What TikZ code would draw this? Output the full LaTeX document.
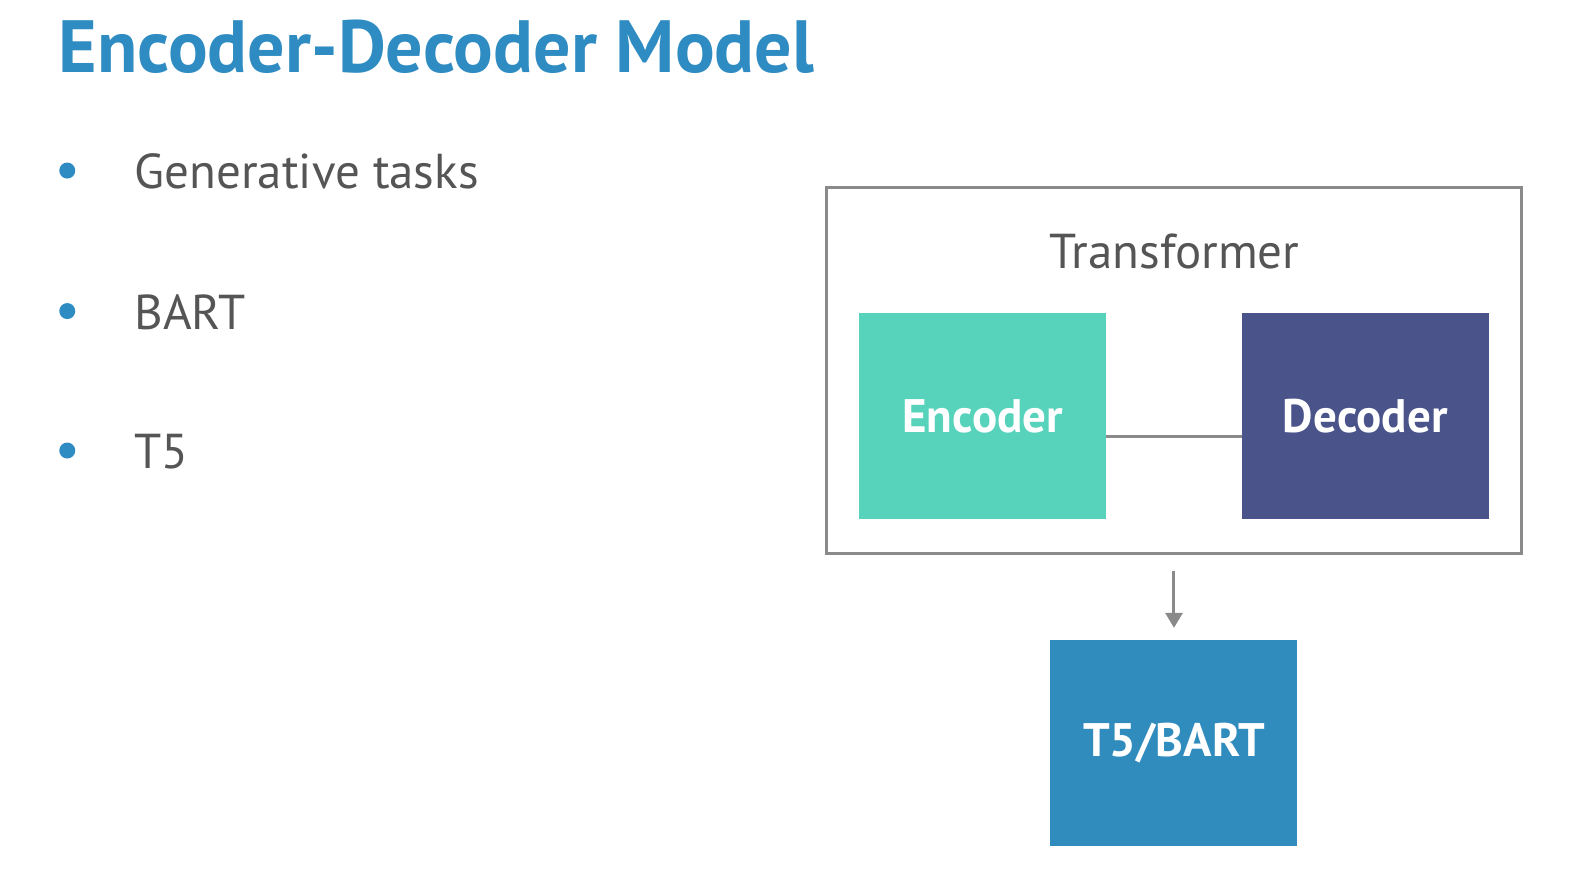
\documentclass[tikz,border=0pt]{standalone}
\usepackage{fontspec}
\setmainfont{PT Sans}
\usetikzlibrary{arrows.meta}
\definecolor{titleblue}{HTML}{2F8CC2}
\definecolor{bodygray}{HTML}{555555}
\definecolor{framegray}{HTML}{8A8A8A}
\definecolor{encfill}{HTML}{57D3BC}
\definecolor{decfill}{HTML}{4A548A}
\definecolor{modelfill}{HTML}{318CBE}
\begin{document}
\begin{tikzpicture}[x=1.0038pt,y=-1.0034pt,
  titletext/.style={anchor=base west,inner sep=0pt,text=titleblue,font=\fontsize{74}{80}\selectfont\bfseries},
  itemtext/.style={anchor=base west,inner sep=0pt,text=bodygray,font=\fontsize{49}{60}\selectfont},
  bulletdot/.style={circle,fill=titleblue,inner sep=0pt,minimum size=16pt},
  block/.style={rectangle,inner sep=0pt,minimum width=247pt,minimum height=206pt,text=white,font=\fontsize{47}{54}\selectfont\bfseries},
  frame/.style={rectangle,draw=framegray,line width=3pt,inner sep=0pt,minimum width=694pt,minimum height=366pt},
  link/.style={draw=framegray,line width=3pt},
  flow/.style={draw=framegray,line width=3pt,-{Triangle[width=17pt,length=15pt]}}
]
\useasboundingbox (0,0) rectangle (1568,873);
\fill[white] (0,0) rectangle (1568,873);

% heading
\node[titletext] (title) at (58,72) {Encoder-Decoder Model};

% bullet list
\node[bulletdot] (b1) at (67,170) {};
\node[bulletdot] (b2) at (67,310) {};
\node[bulletdot] (b3) at (67,449) {};
\node[itemtext] (i1) at (134,188) {Generative tasks};
\node[itemtext] (i2) at (134,328) {BART};
\node[itemtext] (i3) at (134,467) {T5};

% transformer block
\node[frame] (outer) at (1169.5,369.5) {};
\node[anchor=base,inner sep=0pt,text=bodygray,font=\fontsize{49}{60}\selectfont] (tr) at (1170,268) {Transformer};
\node[block,fill=encfill] (enc) at (979,414.5) {Encoder};
\node[block,fill=decfill] (dec) at (1360,414.5) {Decoder};
\draw[link] ([yshift=-21pt]enc.east) -- ([yshift=-21pt]dec.west);

% resulting model
\node[block,fill=modelfill] (model) at (1169.5,740.5) {T5/BART};
\draw[flow] ([yshift=-16pt]outer.south) -- ([yshift=12pt]model.north);
\end{tikzpicture}
\end{document}
